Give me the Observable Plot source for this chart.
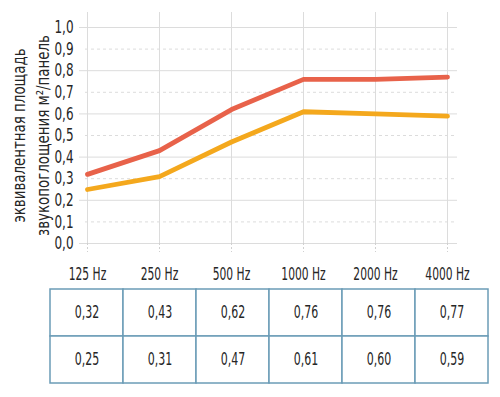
<!DOCTYPE html>
<html><head><meta charset="utf-8">
<script src="https://cdn.jsdelivr.net/npm/d3@7"></script>
<script src="https://cdn.jsdelivr.net/npm/@observablehq/plot@0.6"></script>
<style>
html,body{margin:0;padding:0;background:#fff;}
#chart svg{display:block;}
</style></head><body><div id="chart"></div>
<script>
const categories = ["125 Hz","250 Hz","500 Hz","1000 Hz","2000 Hz","4000 Hz"];
const seriesA = [0.32,0.43,0.62,0.76,0.76,0.77];
const seriesB = [0.25,0.31,0.47,0.61,0.60,0.59];
const seriesNames = ["ряд 1","ряд 2"];
const colors = ["#e8624a","#f4a81d"];
const yTicks = [0,0.1,0.2,0.3,0.4,0.5,0.6,0.7,0.8,0.9,1.0];
const yTitle = ["эквивалентная площадь","звукопоглощения м²/панель"];

const FONT = '"Liberation Sans Narrow","DejaVu Sans Condensed",sans-serif';
const INK = "#262626";
const comma = f => v => d3.format(f)(v).replace(".", ",");

const rows = [];
[seriesA, seriesB].forEach((vals, s) => vals.forEach((v, i) =>
  rows.push({cat: categories[i], value: v, series: seriesNames[s]})));

const chart = Plot.plot({
  width: 500, height: 285,
  marginTop: 27, marginBottom: 42, marginLeft: 85, marginRight: 51,
  style: {fontFamily: FONT, fontSize: "17px", color: INK, background: "#fff", overflow: "visible"},
  x: {type: "point", domain: categories, padding: 0, label: null},
  y: {domain: [0, 1], label: null},
  color: {domain: seriesNames, range: colors},
  marks: [
    Plot.ruleY(yTicks.filter((d, i) => i % 2 === 0), {stroke: "#dcdcdc", strokeWidth: 1, insetLeft: -6, insetRight: -8}),
    Plot.ruleY(yTicks.filter((d, i) => i % 2 === 1), {stroke: "#dcdcdc", strokeDasharray: "3,3", insetRight: -8}),
    Plot.ruleX(categories, {stroke: "#dcdcdc", insetTop: -15}),
    Plot.ruleX(categories, {y1: 0, y2: 0, stroke: "#d0d0d0", strokeDasharray: "2,2", insetBottom: -9}),
    Plot.axisY({ticks: yTicks, tickSize: 0, tickPadding: 12, tickFormat: comma(".1f"), fontSize: 18, label: null}),
    Plot.axisX({tickSize: 0, tickPadding: 24, fontSize: 17, label: null}),
    Plot.line(rows, {x: "cat", y: "value", stroke: "series", z: "series", strokeWidth: 4.8, strokeLinejoin: "round"}),
    Plot.text([yTitle.join("\n")], {frameAnchor: "left", textAnchor: "middle", dx: -56, rotate: -90, fontSize: 17.5, lineHeight: 1.35, fill: INK, className: "ytitle"})
  ]
});

const table = Plot.plot({
  width: 500, height: 112,
  marginTop: 3, marginBottom: 14, marginLeft: 49, marginRight: 11,
  style: {fontFamily: FONT, fontSize: "17px", color: INK, background: "#fff"},
  x: {type: "band", domain: categories, padding: 0, axis: null},
  y: {type: "band", domain: seriesNames, padding: 0, axis: null},
  marks: [
    Plot.cell(rows, {x: "cat", y: "series", fill: "white", stroke: "#6b9cb6", strokeWidth: 1.5, inset: 0}),
    Plot.text(rows, {x: "cat", y: "series", text: d => comma(".2f")(d.value), fontSize: 17, fill: INK, className: "cellvalue"})
  ]
});

document.getElementById("chart").append(chart, table);

// narrow the glyphs to imitate the condensed face of the original
function condense(texts, factor) {
  texts.forEach(t => {
    const parts = t.querySelectorAll("tspan");
    (parts.length ? [...parts] : [t]).forEach(el => {
      const len = el.getComputedTextLength();
      if (len > 0) {
        el.setAttribute("textLength", (len * factor).toFixed(2));
        el.setAttribute("lengthAdjust", "spacingAndGlyphs");
      }
    });
  });
}
condense(chart.querySelectorAll('g[aria-label="y-axis tick label"] text'), 0.74);
condense(chart.querySelectorAll('g[aria-label="x-axis tick label"] text'), 0.7);
condense(chart.querySelectorAll('.ytitle text, g.ytitle text'), 0.85);
condense(table.querySelectorAll('.cellvalue text, g.cellvalue text'), 0.72);
</script>
</body></html>
